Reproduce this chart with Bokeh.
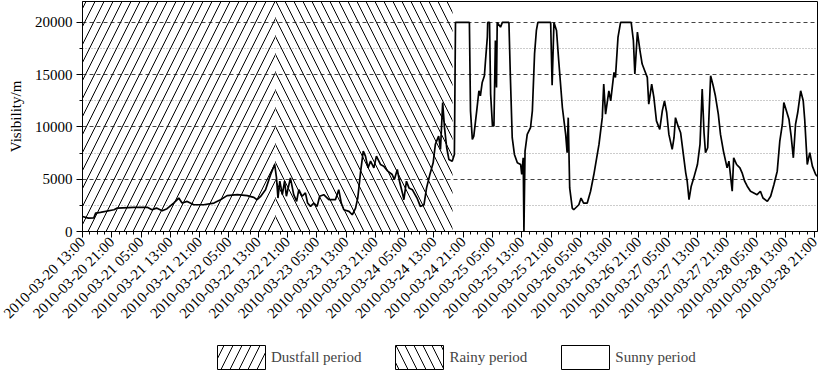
import numpy as np
import pandas as pd
from bokeh.plotting import figure
from bokeh.layouts import column
from bokeh.models import Range1d, FixedTicker, Legend, LegendItem
from bokeh.embed import file_html
from bokeh.resources import INLINE

# ---------------- data ----------------
start_time = "2010-03-20 13:00"

tick_labels = [
    "2010-03-20 13:00", "2010-03-20 21:00", "2010-03-21 05:00", "2010-03-21 13:00",
    "2010-03-21 21:00", "2010-03-22 05:00", "2010-03-22 13:00", "2010-03-22 21:00",
    "2010-03-23 05:00", "2010-03-23 13:00", "2010-03-23 21:00", "2010-03-24 05:00",
    "2010-03-24 13:00", "2010-03-24 21:00", "2010-03-25 05:00", "2010-03-25 13:00",
    "2010-03-25 21:00", "2010-03-26 05:00", "2010-03-26 13:00", "2010-03-26 21:00",
    "2010-03-27 05:00", "2010-03-27 13:00", "2010-03-27 21:00", "2010-03-28 05:00",
    "2010-03-28 13:00", "2010-03-28 21:00",
]

# hours since 2010-03-20 13:00
obs_hours = [
    0.0, 1.6, 3.1, 3.6, 4.9, 8.6, 9.5, 14.0, 17.7, 19.0, 20.2, 21.8, 23.1, 24.9, 26.3,
    27.2, 28.6, 30.4, 33.1, 35.9, 37.7, 39.5, 42.3, 45.0, 46.8, 47.7, 48.6, 50.0, 51.4,
    52.5, 53.0, 53.4, 53.9, 54.6, 55.2, 55.7, 56.8, 57.7, 58.5, 59.1, 60.0, 60.9, 61.5,
    62.3, 63.2, 64.1, 64.8, 65.9, 67.3, 69.1, 70.0, 70.7, 71.4, 72.8, 73.7, 74.6, 75.2,
    76.0, 76.7, 77.3, 78.0, 78.7, 79.6, 80.3, 81.4, 82.3, 83.4, 84.6, 85.2, 86.0, 86.6,
    87.4, 87.8, 88.5, 89.2, 90.1, 91.4, 92.3, 93.3, 94.0, 94.9, 95.8, 96.4, 97.3, 97.8,
    98.4, 98.9, 99.5, 100.1, 101.0, 101.6, 101.9, 105.7, 106.0, 106.5, 106.9, 107.7,
    108.3, 108.7, 109.2, 109.8, 110.1, 110.6, 110.7, 111.2, 111.5, 112.0, 112.4, 112.8,
    113.1, 113.3, 114.2, 114.7, 116.5, 116.9, 117.4, 118.0, 118.8, 119.7, 120.0, 120.4,
    120.6, 120.9, 121.5, 122.4, 122.9, 123.5, 124.0, 124.4, 127.9, 128.3, 128.8, 129.5,
    130.1, 131.1, 132.0, 132.4, 132.7, 133.1, 133.8, 134.2, 135.6, 136.2, 136.9, 137.9,
    138.8, 139.7, 141.1, 142.0, 142.4, 142.9, 143.8, 144.3, 145.2, 145.6, 146.3, 147.0,
    149.9, 150.5, 150.9, 151.6, 152.3, 152.9, 153.6, 154.3, 154.7, 155.5, 156.1, 156.8,
    157.7, 158.4, 159.0, 159.6, 160.2, 161.1, 161.6, 162.0, 162.7, 163.4, 164.1, 164.8,
    165.2, 165.7, 166.3, 167.0, 168.0, 168.7, 169.3, 169.8, 170.2, 170.8, 171.6, 172.3,
    172.9, 173.7, 174.3, 175.1, 175.7, 176.1, 176.6, 177.5, 177.9, 178.7, 179.6, 180.2,
    180.9, 181.6, 182.5, 183.4, 184.3, 185.2, 185.9, 187.1, 188.0, 188.9, 189.8, 190.5,
    191.2, 191.6, 192.3, 193.0, 193.6, 194.2, 194.8, 195.4, 196.2, 196.9, 197.3, 198.0,
    198.7, 199.4, 200.3, 200.7,
]

visibility = [
    1440, 1280, 1300, 1760, 1830, 2080, 2240, 2310, 2310, 2080, 2240, 1990, 2180, 2720, 3200,
    2720, 2880, 2560, 2560, 2720, 3040, 3430, 3520, 3430, 3270, 3040, 3330, 4000, 5450,
    6410, 5130, 3200, 4810, 3520, 4810, 3370, 5130, 3520, 2880, 4000, 3370, 3690, 2720,
    2400, 2720, 2400, 3370, 3520, 3040, 3040, 4000, 2720, 2080, 1920, 1600, 2240, 3200,
    5770, 7690, 7210, 6090, 6730, 6090, 7210, 6410, 6250, 5770, 5450, 4970, 5930, 4810,
    3690, 3040, 4810, 4170, 4000, 3200, 2400, 2560, 4170, 5450, 6570, 8330, 9130, 7850,
    12340, 9930, 8010, 6890, 6730, 7370, 20000, 20000, 11540, 8810, 9130, 11540,
    13460, 12980, 14260, 14900, 16340, 18590, 20000, 20000, 13140, 10100, 10100, 18270,
    13780, 20000, 19550, 20000, 20000, 14740, 8970, 7370, 6570, 6410, 5450, 7050,
    0, 7690, 9290, 9930, 11540, 16990, 19230, 20000, 20000, 14000, 20000, 19230,
    16340, 11860, 9290, 7530, 10890, 4170, 2240, 2080, 2560, 3200, 2720, 2720,
    3850, 5450, 8330, 10890, 14100, 11220, 13460, 12500, 15220, 14740, 18590, 20000,
    20000, 18270, 15060, 19070, 17310, 16020, 15380, 14740, 12180, 14100, 12820, 10580,
    9770, 11540, 12500, 11380, 9290, 7850, 8970, 10890, 10100, 9450, 7530, 5610,
    4810, 3040, 4330, 5130, 6410, 8330, 13620, 9450, 7530, 8010, 14900, 13940,
    12980, 11220, 9290, 7690, 6730, 6090, 6730, 3850, 7050, 6410, 6090, 5610,
    4810, 4330, 3850, 3690, 3520, 3850, 3200, 2880, 3370, 4490, 5770, 8650,
    10260, 12340, 11540, 10740, 9130, 7050, 10260, 11380, 13460, 12500, 10740, 6410,
    7530, 6250, 5450, 5290,
]

period_names = ["Dustfall period", "Rainy period", "Sunny period"]
period_start_h = [0.0, 52.7, 101.1]
period_end_h = [52.7, 101.1, 200.8]

y_ticks = [0, 5000, 10000, 15000, 20000]
y_minor_ticks = [2500, 7500, 12500, 17500]

# ---------------- derived ----------------
t0 = pd.Timestamp(start_time)
tick_hours = [int((pd.Timestamp(s) - t0) / pd.Timedelta(hours=1)) for s in tick_labels]
minor_hours = list(range(0, tick_hours[-1] + 1, 2))

FONT = "Liberation Serif"
HATCHES = ["/", "\\", " "]
Y_TOP = 22000

p = figure(width=822, height=330, output_backend="svg", toolbar_location=None,
           x_range=Range1d(0, period_end_h[-1]), y_range=Range1d(0, Y_TOP),
           min_border_left=82, min_border_right=5, min_border_top=1, min_border_bottom=10)
p.outline_line_color = "black"
p.outline_line_width = 1
p.background_fill_color = "white"
p.border_fill_color = "white"

# period shading (hatched areas)
for s, e, h in zip(period_start_h, period_end_h, HATCHES):
    p.quad(left=[s], right=[e], bottom=[0], top=[Y_TOP], fill_alpha=0,
           line_color=None, hatch_pattern=h, hatch_color="black",
           hatch_scale=18, hatch_weight=1)

# visibility line
p.line(obs_hours, visibility, line_color="black", line_width=1.7)

# axes
p.xaxis.ticker = FixedTicker(ticks=tick_hours, minor_ticks=minor_hours)
p.xaxis.major_label_overrides = {h: s for h, s in zip(tick_hours, tick_labels)}
p.xaxis.major_label_orientation = np.pi / 4
p.yaxis.ticker = FixedTicker(ticks=y_ticks, minor_ticks=y_minor_ticks)
p.yaxis.axis_label = "Visibility/m"

for ax in (p.xaxis, p.yaxis):
    ax.axis_line_color = "black"
    ax.major_tick_line_color = "black"
    ax.minor_tick_line_color = "black"
    ax.major_tick_out = 6
    ax.major_tick_in = 0
    ax.minor_tick_out = 3
    ax.minor_tick_in = 0
    ax.major_label_text_font = FONT
    ax.major_label_text_font_size = "15px"
    ax.major_label_text_color = "black"
    ax.axis_label_text_font = FONT
    ax.axis_label_text_font_size = "15px"
    ax.axis_label_text_font_style = "normal"
    ax.axis_label_text_color = "black"
p.yaxis.axis_label_standoff = 8
p.yaxis.major_label_standoff = 4
p.xaxis.major_label_standoff = 2

p.xgrid.visible = False
p.ygrid.grid_line_color = "#444444"
p.ygrid.grid_line_dash = "4 3"
p.ygrid.grid_line_width = 1
p.ygrid.minor_grid_line_color = "#999999"
p.ygrid.minor_grid_line_dash = "1 2"

# ---------------- legend strip ----------------
# the strip's ranges lie outside the period extents, so only the legend shows
lg = figure(width=822, height=47, output_backend="svg", toolbar_location=None,
            x_range=Range1d(-20, -10), y_range=Range1d(-20, -10),
            x_axis_location=None, y_axis_location=None, min_border=0)
lg.grid.visible = False
lg.outline_line_color = None
lg.border_fill_color = "white"
lg.background_fill_color = "white"

legend_items = []
for name, s, e, h in zip(period_names, period_start_h, period_end_h, HATCHES):
    r = lg.quad(left=[s], right=[e], bottom=[0], top=[Y_TOP], fill_color="white",
                line_color="black", line_width=1, hatch_pattern=h, hatch_color="black",
                hatch_scale=18, hatch_weight=1)
    legend_items.append(LegendItem(label=name, renderers=[r]))

legend = Legend(items=legend_items, orientation="horizontal", location=(129, 5),
                glyph_width=60, glyph_height=30, label_standoff=0, spacing=28,
                label_text_font=FONT, label_text_font_size="15px",
                border_line_color=None, background_fill_alpha=0, padding=0, margin=0)
lg.add_layout(legend, "center")

layout = column(p, lg, spacing=0)
open("out.html", "w").write(file_html(layout, INLINE))
